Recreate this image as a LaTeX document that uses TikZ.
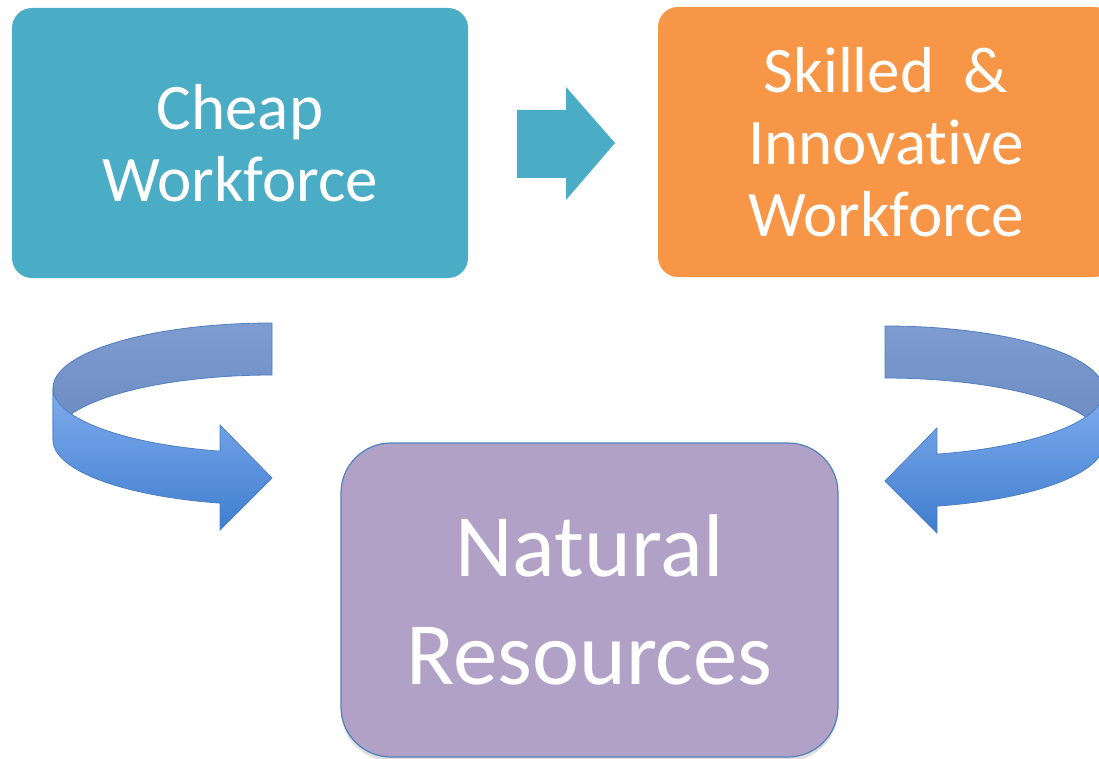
\documentclass[tikz,border=0pt]{standalone}
\usepackage{fontspec}
\setmainfont[Ligatures=NoCommon]{Carlito}
\usetikzlibrary{shadows}
\definecolor{cheapc}{HTML}{4BACC6}
\definecolor{skillc}{HTML}{F79646}
\definecolor{natc}{HTML}{B2A1C7}
\definecolor{natborder}{HTML}{4F81BD}
\definecolor{backtop}{HTML}{7E9CD0}
\definecolor{backbot}{HTML}{6A89BF}
\definecolor{fronttop}{HTML}{80ACEE}
\definecolor{frontbot}{HTML}{3F7ECF}
\definecolor{arrowline}{HTML}{4F7FBF}
\tikzset{
  topbox/.style={rounded corners=20pt, minimum width=456pt, minimum height=270pt,
    text=white, align=center, inner sep=0pt, font=\fontsize{65}{72}\selectfont},
  natbox/.style={rounded corners=50pt, minimum width=497pt, minimum height=314pt,
    text=white, align=center, inner sep=0pt, fill=natc, draw=natborder, line width=1.2pt,
    font=\fontsize{89}{108}\selectfont,
    drop shadow={shadow xshift=0pt, shadow yshift=-4pt, opacity=0.25}},
  backband/.style={top color=backtop, bottom color=backbot, draw=arrowline, line width=0.8pt},
  frontband/.style={top color=fronttop, bottom color=frontbot, draw=arrowline, line width=0.8pt},
  blockarrow/.style={fill=cheapc}
}
\begin{document}
\begin{tikzpicture}[x=1pt,y=-1pt]
\useasboundingbox (0,0) rectangle (1099,759);
\clip (0,0) rectangle (1099,759);

% top boxes
\node[topbox, fill=cheapc] (cheap) at (240,143) {Cheap\\Workforce};
\node[topbox, fill=skillc] (skill) at (886,142) {Skilled\ \ \&\\Innovative\\Workforce};

% middle block arrow
\fill[blockarrow] (517,110) -- (566,110) -- (566,87) -- (615,143) -- (566,200) -- (566,178) -- (517,178) -- cycle;

% natural resources box
\node[natbox] (nat) at (589.5,600) {Natural\\Resources};

% left curved arrow: back band
\path[backband] plot[domain=-90:-180, samples=60] ({272+219*cos(\x)},{388+65*sin(\x)})
  -- plot[domain=-180:-90, samples=60] ({272+219*cos(\x)},{440+65*sin(\x)}) -- cycle;
% left curved arrow: front band with head
\path[frontband] plot[domain=180:103.7, samples=60] ({272+219*cos(\x)},{388+65*sin(\x)})
  -- (220,425) -- (272,478) -- (220,530) -- (220,503.2)
  -- plot[domain=103.7:180, samples=60] ({272+219*cos(\x)},{440+65*sin(\x)}) -- cycle;

% right curved arrow: back band
\path[backband] plot[domain=-90:0, samples=60] ({885+219*cos(\x)},{391+65*sin(\x)})
  -- plot[domain=0:-90, samples=60] ({885+219*cos(\x)},{443+65*sin(\x)}) -- cycle;
% right curved arrow: front band with head
\path[frontband] plot[domain=0:76.3, samples=60] ({885+219*cos(\x)},{391+65*sin(\x)})
  -- (937,428) -- (885,481) -- (937,533) -- (937,506.2)
  -- plot[domain=76.3:0, samples=60] ({885+219*cos(\x)},{443+65*sin(\x)}) -- cycle;
\end{tikzpicture}
\end{document}
